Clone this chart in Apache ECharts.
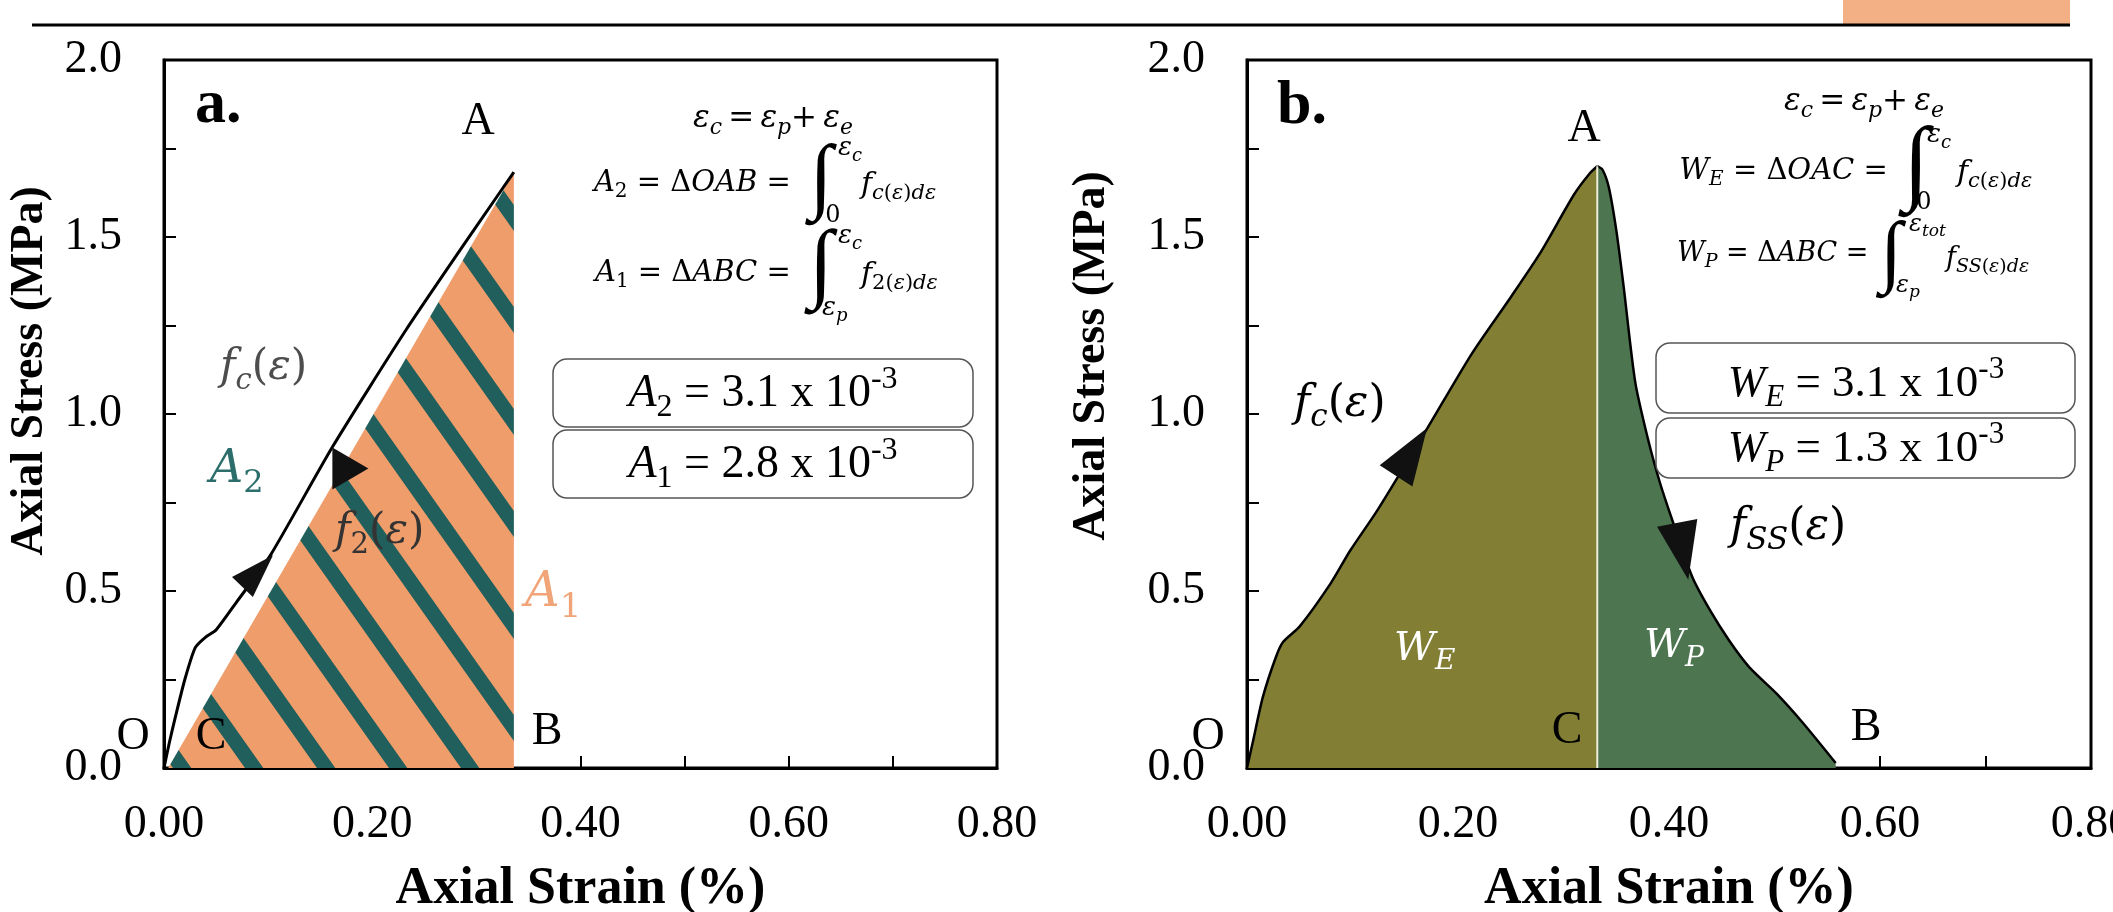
<!DOCTYPE html>
<html>
<head>
<meta charset="utf-8">
<script src="https://cdn.jsdelivr.net/npm/echarts@6/dist/echarts.min.js"></script>
<style>
html, body { margin: 0; padding: 0; background: #fff; }
#chart { width: 2113px; height: 912px; }
</style>
</head>
<body>
<div id="chart"></div>
<script>
// panel a: loading curve f_c(eps) -- strain (%) vs stress (MPa)
const curveA = [[0, 0], [0.005, 0.07], [0.011, 0.145], [0.02, 0.25], [0.03, 0.34], [0.04, 0.37], [0.05, 0.39], [0.07, 0.47], [0.102, 0.60], [0.162, 0.908], [0.233, 1.24], [0.30, 1.53], [0.336, 1.683]]
// hatched triangle O-A-B under the chord
const hatchA = [[0.004, 0], [0.336, 1.683]]
const arrowsA = [[0.090, 0.556], [0.179, 0.846]]

// panel b: rising part (W_E) and softening part (W_P)
const riseB = [[0, 0], [0.006, 0.08], [0.015, 0.20], [0.027, 0.31], [0.034, 0.355], [0.05, 0.40], [0.079, 0.52], [0.098, 0.615], [0.124, 0.73], [0.171, 0.96], [0.213, 1.17], [0.25, 1.33], [0.278, 1.455], [0.31, 1.62], [0.325, 1.68], [0.332, 1.70]]
const fallB = [[0.332, 1.70], [0.337, 1.69], [0.343, 1.64], [0.350, 1.52], [0.357, 1.36], [0.368, 1.09], [0.380, 0.93], [0.391, 0.81], [0.402, 0.71], [0.422, 0.54], [0.438, 0.45], [0.457, 0.36], [0.476, 0.285], [0.502, 0.21], [0.527, 0.127], [0.558, 0.014]]
const peakB = [[0.332, 0], [0.332, 1.70]]
const arrowsB = [[0.156, 0.893], [0.413, 0.612]]

const xTickLabels = ['0.00', '0.20', '0.40', '0.60', '0.80']
const yTickLabels = ['0.0', '0.5', '1.0', '1.5', '2.0']

const serif = 'Liberation Serif'
const mathFont = 'DejaVu Serif'
const arrowAngleA = [-44, -90]
const arrowSizeA = [[29, 44], [42, 36]]
const arrowAngleB = [-33, -169]
const arrowSizeB = [[39, 57], [41, 58]]

function hatchPattern() {
    let c = document.createElement('canvas')
    c.width = 72
    c.height = 102
    let ctx = c.getContext('2d')
    ctx.fillStyle = '#EF9D6B'
    ctx.fillRect(0, 0, 72, 102)
    ctx.strokeStyle = '#215F5D'
    ctx.lineWidth = 15
    for (let dx of [-72, 0, 72]) {
        ctx.beginPath()
        ctx.moveTo(dx - 72, -102)
        ctx.lineTo(dx + 144, 204)
        ctx.stroke()
    }
    return c
}

function fmtX(v) {
    let k = Math.round(v * 10)
    return k % 2 === 0 ? xTickLabels[k / 2] : ''
}
function fmtY(v) {
    let k = Math.round(v * 4)
    return k % 2 === 0 ? yTickLabels[k / 2] : ''
}

function xAxisCfg(grid) {
    return {
        type: 'value', gridIndex: grid, min: 0, max: 0.8, interval: 0.1,
        axisLine: { lineStyle: { color: '#000', width: 3 } },
        axisTick: { inside: true, length: 12, lineStyle: { color: '#000', width: 2 } },
        axisLabel: { margin: 34, fontFamily: serif, fontSize: 46, color: '#000', formatter: fmtX, showMinLabel: true, showMaxLabel: true },
        splitLine: { show: false },
        name: 'Axial Strain (%)', nameLocation: 'middle', nameGap: 96,
        nameTextStyle: { fontFamily: serif, fontWeight: 'bold', fontSize: 52, color: '#000' }
    }
}
function yAxisCfg(grid, gap, shift) {
    return {
        type: 'value', gridIndex: grid, min: 0, max: 2, interval: 0.25,
        axisLine: { lineStyle: { color: '#000', width: 3 } },
        axisTick: { inside: true, length: 12, lineStyle: { color: '#000', width: 2 } },
        axisLabel: { margin: 42, fontFamily: serif, fontSize: 46, color: '#000', formatter: fmtY, showMinLabel: true, showMaxLabel: true },
        splitLine: { show: false },
        name: 'Axial Stress (MPa)', nameLocation: 'middle', nameGap: gap,
        nameTextStyle: { fontFamily: serif, fontWeight: 'bold', fontSize: 46, color: '#000', padding: [0, 0, 0, shift] }
    }
}

function mathStyle(size, color, family) {
    let sub = Math.round(size * 0.7)
    return {
        m: { fontFamily: family, fontStyle: 'italic', fontSize: size, lineHeight: Math.round(size * 1.3), verticalAlign: 'middle', fill: color },
        r: { fontFamily: family, fontSize: size, lineHeight: Math.round(size * 1.3), verticalAlign: 'middle', fill: color },
        s: { fontFamily: family, fontStyle: 'italic', fontSize: sub, lineHeight: Math.round(size * 0.6), verticalAlign: 'bottom', fill: color },
        sr: { fontFamily: family, fontSize: sub, lineHeight: Math.round(size * 0.6), verticalAlign: 'bottom', fill: color },
        u: { fontFamily: family, fontSize: sub, lineHeight: Math.round(size * 0.85), verticalAlign: 'top', fill: color }
    }
}
function mtext(x, y, text, size, color, align, family) {
    align = align || 'left'
    family = family || mathFont
    return {
        type: 'text', x: x, y: y, z: 100,
        style: {
            text: text, rich: mathStyle(size, color || '#000', family),
            font: 'italic ' + size + 'px ' + family, fill: color || '#000',
            align: align, verticalAlign: 'middle', textAlign: align, textVerticalAlign: 'middle'
        }
    }
}
function ptext(x, y, text, font, color, align) {
    align = align || 'center'
    return {
        type: 'text', x: x, y: y, z: 100,
        style: { text: text, font: font, fill: color || '#000', align: align, verticalAlign: 'middle', textAlign: align, textVerticalAlign: 'middle' }
    }
}
function integral(x, y, size) {
    return ptext(x, y, '\u222B', size + 'px ' + serif, '#000', 'center')
}
function box(x, y, w, h) {
    return { type: 'rect', z: 90, shape: { x: x, y: y, width: w, height: h, r: 14 }, style: { fill: '#fff', stroke: '#555', lineWidth: 1.5 } }
}

const eqLine = '{m|ε}{s|c}{r|\u2009=\u2009}{m|ε}{s|p}{r|+\u2009}{m|ε}{s|e}'

const graphics = [
    { type: 'line', z: 100, shape: { x1: 32, y1: 25, x2: 2070, y2: 25 }, style: { stroke: '#000', lineWidth: 3 } },
    { type: 'rect', z: 99, shape: { x: 1843, y: 0, width: 227, height: 24 }, style: { fill: '#F2B084' } },

    // panel a
    ptext(195, 106, 'a.', 'bold 62px ' + serif, '#000', 'left'),
    ptext(478, 122, 'A', '46px ' + serif),
    ptext(133, 737, 'O', '46px ' + serif),
    ptext(211, 737, 'C', '46px ' + serif),
    ptext(547, 732, 'B', '46px ' + serif),
    mtext(220, 368, '{m|f}{s|c}{r|(}{m|ε}{r|)}', 42, '#4d4d4d'),
    mtext(210, 470, '{m|A}{sr|2}', 46, '#2B6E6B'),
    mtext(335, 532, '{m|f}{sr|2}{r|(}{m|ε}{r|)}', 42, '#333'),
    mtext(525, 594, '{m|A}{sr|1}', 48, '#F1A477'),
    mtext(773, 119, eqLine, 31, '#000', 'center'),
    mtext(800, 183, '{m|A}{sr|2}{r| = Δ}{m|OAB}{r| = }', 29, '#000', 'right'),
    integral(821, 181, 84),
    mtext(838, 148, '{m|ε}{s|c}', 26),
    ptext(833, 216, '0', '24px ' + mathFont),
    mtext(861, 185, '{m|f}{s|c}{sr|(}{s|ε}{sr|)}{s|dε}', 30),
    mtext(800, 273, '{m|A}{sr|1}{r| = Δ}{m|ABC}{r| = }', 29, '#000', 'right'),
    integral(821, 268, 88),
    mtext(838, 236, '{m|ε}{s|c}', 26),
    mtext(822, 308, '{m|ε}{s|p}', 26),
    mtext(861, 275, '{m|f}{sr|2(}{s|ε}{sr|)}{s|dε}', 30),
    box(553, 359, 420, 68),
    box(553, 430, 420, 68),
    mtext(763, 394, '{m|A}{sr|2}{r| = 3.1 x 10}{u|-3}', 46, '#000', 'center', serif),
    mtext(763, 465, '{m|A}{sr|1}{r| = 2.8 x 10}{u|-3}', 46, '#000', 'center', serif),

    // panel b
    ptext(1277, 107, 'b.', 'bold 62px ' + serif, '#000', 'left'),
    ptext(1584, 129, 'A', '46px ' + serif),
    ptext(1208, 737, 'O', '46px ' + serif),
    ptext(1567, 731, 'C', '46px ' + serif),
    ptext(1866, 728, 'B', '46px ' + serif),
    mtext(1294, 405, '{m|f}{s|c}{r|(}{m|ε}{r|)}', 44),
    mtext(1730, 528, '{m|f}{s|SS}{r|(}{m|ε}{r|)}', 44),
    mtext(1394, 650, '{m|W}{s|E}', 40, '#fff'),
    mtext(1644, 647, '{m|W}{s|P}', 40, '#fff'),
    mtext(1864, 102, eqLine, 31, '#000', 'center'),
    mtext(1897, 171, '{m|W}{s|E}{r| = Δ}{m|OAC}{r| = }', 29, '#000', 'right'),
    integral(1916, 167, 94),
    mtext(1927, 135, '{m|ε}{s|c}', 26),
    ptext(1924, 203, '0', '24px ' + mathFont),
    mtext(1957, 173, '{m|f}{s|c}{sr|(}{s|ε}{sr|)}{s|dε}', 30),
    mtext(1877, 254, '{m|W}{s|P}{r| = Δ}{m|ABC}{r| = }', 27, '#000', 'right'),
    integral(1891, 256, 80),
    mtext(1909, 225, '{m|ε}{s|tot}', 24),
    mtext(1896, 286, '{m|ε}{s|p}', 24),
    mtext(1946, 259, '{m|f}{s|SS}{sr|(}{s|ε}{sr|)}{s|dε}', 27),
    box(1656, 343, 419, 70),
    box(1656, 418, 419, 60),
    mtext(1866, 384, '{m|W}{s|E}{r| = 3.1 x 10}{u|-3}', 45, '#000', 'center', serif),
    mtext(1866, 449, '{m|W}{s|P}{r| = 1.3 x 10}{u|-3}', 45, '#000', 'center', serif)
]

function arrowData(points, angles, sizes) {
    return points.map((p, i) => ({ value: p, symbolRotate: angles[i], symbolSize: sizes[i] }))
}

const chart = echarts.init(document.getElementById('chart'))
const option = {
    backgroundColor: '#fff',
    animation: false,
    grid: [
        { left: 164, top: 60, width: 833, height: 708, show: true, borderColor: '#000', borderWidth: 3, backgroundColor: 'transparent', outerBoundsMode: 'none' },
        { left: 1247, top: 60, width: 844, height: 708, show: true, borderColor: '#000', borderWidth: 3, backgroundColor: 'transparent', outerBoundsMode: 'none' }
    ],
    xAxis: [xAxisCfg(0), xAxisCfg(1)],
    yAxis: [yAxisCfg(0, 111, 86), yAxisCfg(1, 132, 116)],
    series: [
        {
            type: 'line', xAxisIndex: 0, yAxisIndex: 0, data: hatchA, symbol: 'none', silent: true, z: 1,
            lineStyle: { width: 0 },
            areaStyle: { color: { image: hatchPattern(), repeat: 'repeat' }, opacity: 1 }
        },
        {
            type: 'line', xAxisIndex: 0, yAxisIndex: 0, data: curveA, symbol: 'none', smooth: 0.2, silent: true, z: 3,
            lineStyle: { color: '#000', width: 3 }
        },
        {
            type: 'scatter', xAxisIndex: 0, yAxisIndex: 0, symbol: 'triangle', silent: true, z: 6,
            itemStyle: { color: '#111', opacity: 1 },
            data: arrowData(arrowsA, arrowAngleA, arrowSizeA)
        },
        {
            type: 'line', xAxisIndex: 1, yAxisIndex: 1, data: riseB, symbol: 'none', smooth: 0.25, silent: true, z: 2,
            lineStyle: { color: '#000', width: 2.5 },
            areaStyle: { color: '#827F35', opacity: 1 }
        },
        {
            type: 'line', xAxisIndex: 1, yAxisIndex: 1, data: fallB, symbol: 'none', smooth: 0.25, silent: true, z: 2,
            lineStyle: { color: '#000', width: 2.5 },
            areaStyle: { color: '#4C7550', opacity: 1 }
        },
        {
            type: 'line', xAxisIndex: 1, yAxisIndex: 1, data: peakB, symbol: 'none', silent: true, z: 3,
            lineStyle: { color: '#EDEDD8', width: 2 }
        },
        {
            type: 'scatter', xAxisIndex: 1, yAxisIndex: 1, symbol: 'triangle', silent: true, z: 6,
            itemStyle: { color: '#111', opacity: 1 },
            data: arrowData(arrowsB, arrowAngleB, arrowSizeB)
        }
    ],
    graphic: graphics
}
chart.setOption(option)
</script>
</body>
</html>
